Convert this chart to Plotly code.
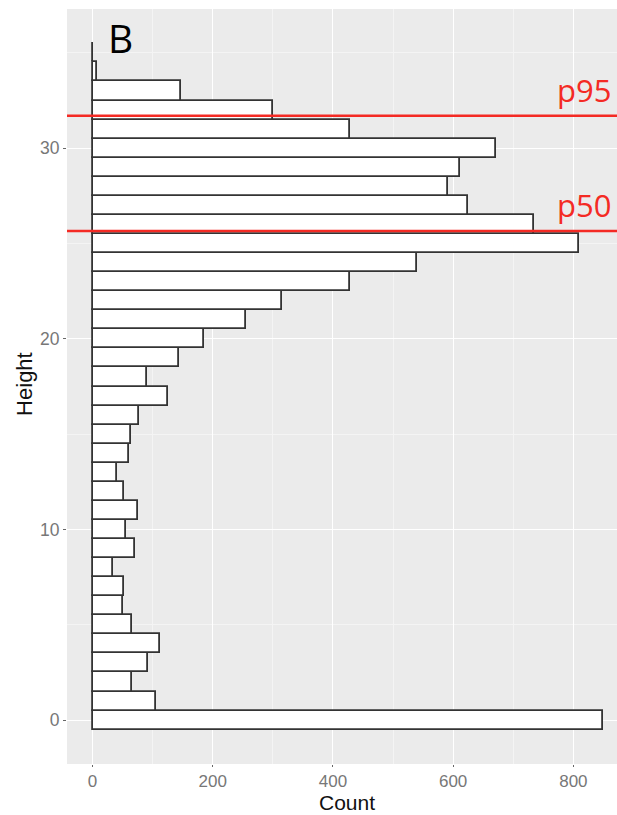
import plotly.graph_objects as go

heights = list(range(36))
counts = [849, 105, 65, 92, 113, 66, 51, 52, 34, 71,
          55, 75, 52, 40, 60, 64, 77, 125, 91, 144,
          186, 255, 315, 428, 540, 809, 734, 624, 592, 611,
          672, 428, 300, 148, 8, 1]
p50 = 25.65
p95 = 31.7
x_ticks = [0, 200, 400, 600, 800]
y_ticks = [0, 10, 20, 30]

fig = go.Figure()
fig.add_trace(go.Bar(
    x=counts, y=heights, orientation="h", width=1,
    marker=dict(color="white", line=dict(color="#333333", width=1.8)),
    hoverinfo="x+y", showlegend=False,
))

for val, name in [(p95, "p95"), (p50, "p50")]:
    fig.add_shape(type="line", xref="paper", x0=0, x1=1, yref="y", y0=val, y1=val,
                  line=dict(color="#f42a24", width=2.5))
    fig.add_annotation(text=name, xref="paper", x=1, xanchor="right", xshift=-4,
                       yref="y", y=val, yanchor="bottom", yshift=3, showarrow=False,
                       font=dict(family="Open Sans", size=31, color="#f42a24"))

fig.add_annotation(text="B", xref="paper", yref="paper", x=0.07, y=1.0,
                   xanchor="left", yanchor="top", yshift=0, showarrow=False,
                   font=dict(family="Open Sans", size=39, color="black"))

# axis titles as annotations for precise placement
fig.add_annotation(text="Count", xref="paper", yref="paper", x=0.509, y=0,
                   xanchor="center", yanchor="top", yshift=-26, borderpad=0, showarrow=False,
                   font=dict(family="Liberation Sans", size=21, color="#111"))
fig.add_annotation(text="Height", xref="paper", yref="paper", x=-0.077, y=0.503,
                   xanchor="center", yanchor="middle", textangle=-90, showarrow=False,
                   font=dict(family="Liberation Sans", size=22, color="#111"))

fig.update_layout(
    width=617, height=815,
    margin=dict(l=67, r=0, t=9, b=51),
    paper_bgcolor="white", plot_bgcolor="#EBEBEB",
    bargap=0,
    font=dict(family="Liberation Sans"),
    xaxis=dict(range=[-42.45, 872.6], tickvals=x_ticks, ticks="outside", ticklen=2,
               tickcolor="#666", tickfont=dict(size=17, color="#777"),
               showgrid=True, gridcolor="white", gridwidth=1.3, zeroline=False,
               minor=dict(dtick=100, tick0=0, showgrid=True, gridcolor="#F4F4F4", gridwidth=0.7)),
    yaxis=dict(range=[-2.3, 37.3], tickvals=y_ticks, ticks="outside", ticklen=3,
               tickcolor="#666", tickfont=dict(size=17.5, color="#777"),
               showgrid=True, gridcolor="white", gridwidth=1.3, zeroline=False,
               minor=dict(dtick=5, tick0=0, showgrid=True, gridcolor="#F4F4F4", gridwidth=0.7)),
)

fig.write_html("out.html")
